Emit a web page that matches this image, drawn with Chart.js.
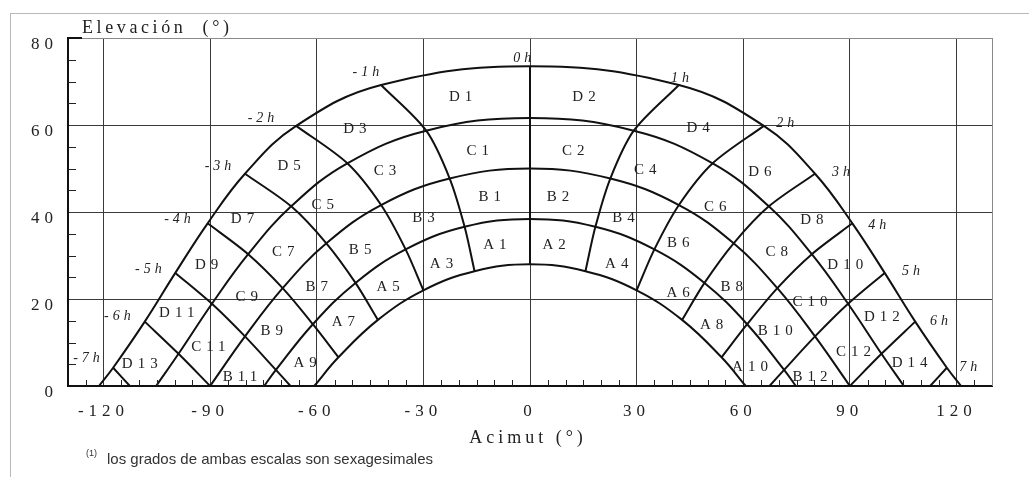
<!DOCTYPE html>
<html>
<head>
<meta charset="utf-8">
<script src="https://cdn.jsdelivr.net/npm/chart.js@4.4.1/dist/chart.umd.min.js"></script>
<style>
  html, body { margin: 0; padding: 0; background: #fff; }
  #wrap { position: relative; width: 1029px; height: 477px; overflow: hidden; }
  #frame { position: absolute; left: 10px; top: 13px; right: 0; bottom: 0; border-top: 1px solid #b8b8b8; border-left: 1px solid #b8b8b8; }
  canvas { position: absolute; left: 0; top: 0; }
</style>
</head>
<body>
<div id="wrap">
  <div id="frame"></div>
  <canvas id="sunChart" width="1029" height="477"></canvas>
</div>
<script>
// axis ticks
const xTickValues = [-120, -90, -60, -30, 0, 30, 60, 90, 120];
const xTickLabels = ['-120', '-90', '-60', '-30', '0', '30', '60', '90', '120'];
const yTickValues = [0, 20, 40, 60, 80];
const yTickLabels = ['0', '20', '40', '60', '80'];

// sun path arcs (azimuth / elevation, degrees), top of D down to bottom of A
const arcDAz = [-121.3, -117.3, -108.4, -99.8, -90.7, -80.2, -65.8, -41.9, 0, 41.9, 65.8, 80.2, 90.7, 99.8, 108.4, 117.3, 121.3];
const arcDEl = [0, 4.2, 14.8, 26.0, 37.4, 48.8, 59.8, 69.2, 73.5, 69.2, 59.8, 48.8, 37.4, 26.0, 14.8, 4.2, 0];
const arcCDAz = [-105.2, -98.9, -89.5, -79.3, -67.2, -51.4, -29.2, 0, 29.2, 51.4, 67.2, 79.3, 89.5, 98.9, 105.2];
const arcCDEl = [0, 7.4, 18.9, 30.3, 41.3, 51.2, 58.7, 61.6, 58.7, 51.2, 41.3, 30.3, 18.9, 7.4, 0];
const arcBCAz = [-90, -80.2, -69.6, -57.3, -41.9, -22.6, 0, 22.6, 41.9, 57.3, 69.6, 80.2, 90];
const arcBCEl = [0, 11.4, 22.5, 32.8, 41.6, 47.7, 50.0, 47.7, 41.6, 32.8, 22.5, 11.4, 0];
const arcABAz = [-74.8, -71.5, -61.1, -49.1, -35.0, -18.4, 0, 18.4, 35.0, 49.1, 61.1, 71.5, 74.8];
const arcABEl = [0, 3.7, 14.2, 23.7, 31.4, 36.6, 38.4, 36.6, 31.4, 23.7, 14.2, 3.7, 0];
const arcAAz = [-60.7, -53.9, -42.8, -30.0, -15.6, 0, 15.6, 30.0, 42.8, 53.9, 60.7];
const arcAEl = [0, 6.6, 15.2, 22.0, 26.4, 28.0, 26.4, 22.0, 15.2, 6.6, 0];

// hour lines, morning side (afternoon is the mirror image)
const hour1Az = [-41.9, -29.2, -22.6, -18.4, -15.6];
const hour1El = [69.2, 58.7, 47.7, 36.6, 26.4];
const hour2Az = [-65.8, -51.4, -41.9, -35.0, -30.0];
const hour2El = [59.8, 51.2, 41.6, 31.4, 22.0];
const hour3Az = [-80.2, -67.2, -57.3, -49.1, -42.8];
const hour3El = [48.8, 41.3, 32.8, 23.7, 15.2];
const hour4Az = [-90.7, -79.3, -69.6, -61.1, -53.9];
const hour4El = [37.4, 30.3, 22.5, 14.2, 6.6];
const hour5Az = [-99.8, -89.5, -80.2, -71.5, -67.4];
const hour5El = [26.0, 18.9, 11.4, 3.7, 0];
const hour6Az = [-108.4, -98.9, -90];
const hour6El = [14.8, 7.4, 0];
const hour7Az = [-117.3, -112.6];
const hour7El = [4.2, 0];
const noonAz = [0, 0];
const noonEl = [73.5, 28.0];

// labels
const hourText = ['-7h', '-6h', '-5h', '-4h', '-3h', '-2h', '-1h', '0h', '1h', '2h', '3h', '4h', '5h', '6h', '7h'];
const hourTextAz = [-124.8, -116.1, -107.4, -99.2, -87.8, -75.7, -46.2, -2.2, 42.2, 71.8, 87.5, 97.7, 107.2, 115.1, 123.3];
const hourTextEl = [6.4, 16.1, 26.9, 38.3, 50.6, 61.6, 72.0, 75.3, 70.7, 60.4, 49.1, 37.0, 26.3, 14.8, 4.4];

const zoneNames = ['D1', 'D2', 'D3', 'D4', 'D5', 'D6', 'D7', 'D8', 'D9', 'D10', 'D11', 'D12', 'D13', 'D14',
  'C1', 'C2', 'C3', 'C4', 'C5', 'C6', 'C7', 'C8', 'C9', 'C10', 'C11', 'C12',
  'B1', 'B2', 'B3', 'B4', 'B5', 'B6', 'B7', 'B8', 'B9', 'B10', 'B11', 'B12',
  'A1', 'A2', 'A3', 'A4', 'A5', 'A6', 'A7', 'A8', 'A9', 'A10'];
const zoneAz = [-19.5, 15.2, -49.3, 47.3, -67.8, 64.7, -80.9, 79.3, -91.0, 88.7, -99.4, 99.0, -109.8, 106.8,
  -14.7, 12.2, -40.8, 32.4, -58.3, 52.1, -69.4, 69.4, -79.7, 78.8, -90.5, 91.0,
  -11.3, 7.9, -30.0, 26.3, -47.8, 41.7, -60.0, 56.8, -72.7, 69.0, -81.6, 78.8,
  -9.9, 6.8, -24.9, 24.4, -39.9, 41.7, -52.5, 51.1, -63.3, 61.9];
const zoneEl = [66.5, 66.5, 59.1, 59.4, 50.6, 49.1, 38.3, 38.2, 27.8, 27.8, 16.7, 15.9, 5.1, 5.2,
  53.9, 53.9, 49.3, 49.7, 41.6, 41.1, 30.7, 30.7, 20.5, 19.4, 9.0, 7.7,
  43.4, 43.4, 38.5, 38.5, 31.3, 32.9, 22.7, 22.7, 12.7, 12.7, 2.1, 2.1,
  32.4, 32.4, 28.0, 28.0, 22.8, 21.4, 14.6, 14.0, 5.2, 4.4];

function curve(az, el, tension) {
  return {
    data: az.map((a, i) => ({ x: a, y: el[i] })),
    showLine: true,
    borderColor: '#111',
    borderWidth: 2,
    pointRadius: 0,
    tension: tension,
    fill: false
  };
}

const datasets = [];
[[arcDAz, arcDEl], [arcCDAz, arcCDEl], [arcBCAz, arcBCEl], [arcABAz, arcABEl], [arcAAz, arcAEl]]
  .forEach(([a, e]) => datasets.push(curve(a, e, 0.4)));
[[hour1Az, hour1El], [hour2Az, hour2El], [hour3Az, hour3El], [hour4Az, hour4El],
 [hour5Az, hour5El], [hour6Az, hour6El], [hour7Az, hour7El]].forEach(([a, e]) => {
  datasets.push(curve(a, e, 0.3));
  datasets.push(curve(a.map(v => -v), e, 0.3));
});
datasets.push(curve(noonAz, noonEl, 0));

const SERIF = '"Liberation Serif", "Times New Roman", serif';

const decor = {
  id: 'decor',
  beforeDraw(chart) {
    chart.ctx.letterSpacing = '5px';
  },
  afterDatasetsDraw(chart) {
    const { ctx, chartArea: a, scales: { x, y } } = chart;
    ctx.save();
    // right frame
    ctx.strokeStyle = '#8a8a8a';
    ctx.lineWidth = 1;
    ctx.beginPath();
    ctx.moveTo(Math.round(a.right) + 0.5, a.top);
    ctx.lineTo(Math.round(a.right) + 0.5, a.bottom);
    ctx.stroke();
    // minor ticks, inside the plot
    ctx.strokeStyle = '#222';
    ctx.lineWidth = 1;
    ctx.beginPath();
    for (let v = -125; v <= 125; v += 5) {
      if (v % 30 === 0) continue;
      const px = Math.round(x.getPixelForValue(v)) + 0.5;
      ctx.moveTo(px, a.bottom);
      ctx.lineTo(px, a.bottom - 6);
    }
    for (let v = 5; v < 80; v += 5) {
      if (v % 20 === 0) continue;
      const py = Math.round(y.getPixelForValue(v)) + 0.5;
      ctx.moveTo(a.left, py);
      ctx.lineTo(a.left + 8, py);
    }
    ctx.stroke();
    ctx.strokeStyle = '#111';
    ctx.lineWidth = 2;
    ctx.beginPath();
    ctx.moveTo(a.left, a.top);
    ctx.lineTo(a.left + 14, a.top);
    ctx.stroke();

    // zone labels
    ctx.fillStyle = '#222';
    ctx.textAlign = 'center';
    ctx.textBaseline = 'middle';
    ctx.font = '15px ' + SERIF;
    ctx.letterSpacing = '5px';
    zoneNames.forEach((t, i) => {
      ctx.fillText(t, x.getPixelForValue(zoneAz[i]) + 2.5, y.getPixelForValue(zoneEl[i]));
    });
    // hour labels
    ctx.font = 'italic 14px ' + SERIF;
    ctx.letterSpacing = '4px';
    hourText.forEach((t, i) => {
      ctx.fillText(t, x.getPixelForValue(hourTextAz[i]) + 2, y.getPixelForValue(hourTextEl[i]));
    });

    // axis titles
    ctx.textBaseline = 'alphabetic';
    ctx.textAlign = 'left';
    ctx.font = '18px ' + SERIF;
    ctx.letterSpacing = '3.6px';
    ctx.fillText('Elevación  (°)', 82, 33);
    ctx.textAlign = 'center';
    ctx.font = '18px ' + SERIF;
    ctx.letterSpacing = '4px';
    ctx.fillText('Acimut (°)', 528, 443);

    // footnote
    ctx.letterSpacing = '0px';
    ctx.textAlign = 'left';
    ctx.fillStyle = '#333';
    ctx.font = '9px "Liberation Sans", Arial, sans-serif';
    ctx.fillText('(1)', 86, 456);
    ctx.font = '15px "Liberation Sans", Arial, sans-serif';
    ctx.fillText('los grados de ambas escalas son sexagesimales', 107, 464);
    ctx.restore();
  }
};

new Chart(document.getElementById('sunChart'), {
  type: 'scatter',
  data: { datasets: datasets },
  options: {
    responsive: false,
    devicePixelRatio: 1,
    animation: false,
    layout: { padding: { left: 0, right: 37, top: 38, bottom: 0 } },
    plugins: { legend: { display: false }, tooltip: { enabled: false } },
    scales: {
      x: {
        type: 'linear',
        min: -130,
        max: 130,
        afterBuildTicks: s => { s.ticks = xTickValues.map(v => ({ value: v })); },
        afterFit: s => { s.height = 91; },
        ticks: {
          autoSkip: false,
          maxRotation: 0,
          padding: 15,
          color: '#222',
          font: { family: SERIF, size: 17 },
          callback: (v, i) => xTickLabels[i]
        },
        grid: { color: '#3a3a3a', lineWidth: 1, drawTicks: false },
        border: { color: '#111', width: 2 }
      },
      y: {
        type: 'linear',
        min: 0,
        max: 80,
        afterBuildTicks: s => { s.ticks = yTickValues.map(v => ({ value: v })); },
        afterFit: s => { s.width = 68; },
        ticks: {
          padding: 10,
          labelOffset: 7,
          color: '#222',
          font: { family: SERIF, size: 17 },
          callback: (v, i) => yTickLabels[i]
        },
        grid: {
          drawTicks: false,
          lineWidth: 1,
          color: c => c.tick.value === 80 ? '#8a8a8a' : (c.tick.value === 0 ? 'rgba(0,0,0,0)' : '#3a3a3a')
        },
        border: { color: '#111', width: 2 }
      }
    }
  },
  plugins: [decor]
});
</script>
</body>
</html>
